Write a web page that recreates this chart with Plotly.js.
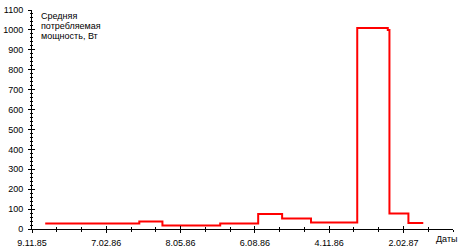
<!DOCTYPE html>
<html>
<head>
<meta charset="utf-8">
<script src="https://cdn.plot.ly/plotly-3.0.1.min.js"></script>
<style>html,body{margin:0;padding:0;background:#fff;}#chart{width:473px;height:251px;}</style>
</head>
<body>
<div id="chart"></div>
<script>
// Data (step line, values held until next date)
const dates = ['1985-11-25','1986-03-19','1986-04-16','1986-06-25','1986-08-10','1986-09-08','1986-10-13','1986-12-08','1987-01-14','1987-01-16','1987-02-08','1987-02-26'];
const power = [27, 38, 18, 27, 75, 53, 33, 1010, 1000, 78, 30, 30];
const yTitleLines = ['Средняя', 'потребляемая', 'мощность, Вт'];
const xTitle = 'Даты';
const xRange = ['1985-11-09', '1987-04-03'];
const yRange = [0, 1100];

const DAY = 86400000;
const font = {family: 'Liberation Sans, Arial, sans-serif', size: 9, color: '#000'};

const xCommon = {
  type: 'date', range: xRange, tick0: xRange[0], dtick: 90 * DAY,
  showgrid: false, zeroline: false, showline: true, linecolor: '#000', linewidth: 1,
  tickcolor: '#000', ticklen: 3, tickwidth: 1,
  minor: {dtick: 30 * DAY, tick0: xRange[0], ticklen: 2, tickcolor: '#000', showgrid: false, ticks: 'outside'}
};
const yCommon = {
  range: yRange, dtick: 100, tick0: 0,
  showgrid: false, zeroline: false, showline: true, linecolor: '#000', linewidth: 1,
  tickcolor: '#000', ticklen: 3, tickwidth: 1,
  minor: {dtick: 20, ticklen: 1, tickcolor: '#000', showgrid: false, ticks: 'outside'}
};

const layout = {
  width: 473, height: 251,
  margin: {l: 32, r: 20, t: 10, b: 22, pad: 0},
  paper_bgcolor: '#fff', plot_bgcolor: '#fff',
  font: font,
  showlegend: false,
  xaxis: Object.assign({}, xCommon, {ticks: 'outside', tickformat: '%-d.%m.%y', tickfont: font, ticklabelstandoff: 2}),
  yaxis: Object.assign({}, yCommon, {ticks: 'outside', tickfont: font, ticklabelstandoff: 3}),
  xaxis2: Object.assign({}, xCommon, {overlaying: 'x', matches: 'x', ticks: 'inside', showticklabels: false, anchor: 'y2',
    minor: Object.assign({}, xCommon.minor, {ticks: 'inside'})}),
  yaxis2: Object.assign({}, yCommon, {overlaying: 'y', matches: 'y', ticks: 'inside', showticklabels: false, anchor: 'x2',
    minor: Object.assign({}, yCommon.minor, {ticks: 'inside'})}),
  annotations: yTitleLines.map((t, i) => ({
    text: t, xref: 'paper', yref: 'paper', x: 0.012, y: (229 - (16 + 10 * i)) / 219,
    xanchor: 'left', yanchor: 'middle', xshift: 2, showarrow: false, font: font
  })).concat([{
    text: xTitle, xref: 'paper', yref: 'paper', x: 1.0, y: -0.05,
    xanchor: 'center', yanchor: 'middle', xshift: -6, yshift: 1, showarrow: false, font: font
  }])
};

const traces = [
  {x: dates, y: power, type: 'scatter', mode: 'lines', line: {shape: 'hv', color: '#ff0000', width: 2}, xaxis: 'x', yaxis: 'y'},
  {x: [xRange[0]], y: [null], type: 'scatter', mode: 'lines', xaxis: 'x2', yaxis: 'y2', showlegend: false}
];

Plotly.newPlot('chart', traces, layout, {staticPlot: true, displayModeBar: false});
</script>
</body>
</html>
